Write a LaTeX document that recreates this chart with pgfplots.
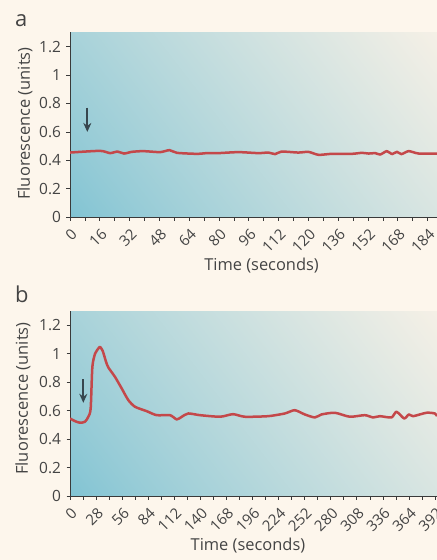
\documentclass[border=0pt]{standalone}
\usepackage{fontspec}
\setmainfont{Open Sans}
\usepackage{pgfplots}
\pgfplotsset{compat=1.18}
\usetikzlibrary{arrows.meta}

\definecolor{pagebg}{HTML}{FDF6EC}
\definecolor{axisgray}{HTML}{3A3A3A}
\definecolor{textgray}{HTML}{444444}
\definecolor{linered}{HTML}{C4484A}
\definecolor{arrowcol}{HTML}{37464E}

% diagonal blue-to-cream background, fitted to the axis box (25..75bp)
\pgfdeclarefunctionalshading{diagbg}{\pgfpointorigin}{\pgfpoint{100bp}{100bp}}{}{
  25 sub 50 div 0.28 mul exch 25 sub 50 div 0.72 mul add
  dup 0 lt {pop 0} if dup 1 gt {pop 1} if
  0.85 exp
  dup dup
  117 mul 128 add 255 div
  exch 45 mul 195 add 255 div
  3 -1 roll 19 mul 211 add 255 div
}

\tikzset{
  marker/.style={arrowcol, line width=2bp, -{Stealth[length=9bp,width=8bp]}},
}

\pgfplotsset{
  panel/.style={
    scale only axis, width=367bp, height=185bp, anchor=south west,
    ymin=0, ymax=1.3,
    ytick={0,0.2,0.4,0.6,0.8,1,1.2},
    axis x line=bottom, axis y line=left,
    axis line style={draw=axisgray, line width=0.9bp, -},
    tick align=outside, major tick length=3.5bp, minor tick length=3.5bp,
    tick style={draw=axisgray, line width=0.8bp},
    minor x tick num=1,
    /pgf/number format/assume math mode=true,
    every tick label/.append style={font=\fontsize{15.5}{17}\selectfont, text=textgray},
    xticklabel style={font=\fontsize{15}{17}\selectfont, rotate=45, anchor=north east, inner sep=0pt, xshift=-4.5bp, yshift=-5bp},
    yticklabel style={xshift=-2bp},
    label style={font=\fontsize{16.5}{18}\selectfont, text=textgray},
    ylabel={Fluorescence (units)},
    xlabel={Time (seconds)},
    axis background/.style={shading=diagbg},
  },
  redline/.style={linered, line width=2.5bp, smooth, tension=0.4, line join=round},
}

\begin{document}
\begin{tikzpicture}
\fill[pagebg] (0bp,0bp) rectangle (437bp,-560bp);

% panel a
\begin{axis}[panel, at={(70bp,-217.3bp)},
  xmin=0, xmax=197,
  xtick={0,16,...,192},
  xticklabels={0,16,32,48,64,80,96,112,120,136,152,168,184},
  xlabel style={at={(axis description cs:0.522,-0.262)}, anchor=center},
  ylabel style={at={(axis description cs:-0.1226,0.507)}, anchor=center},
]
\addplot[redline] coordinates {
  (0,0.455) (16.1,0.467) (21.5,0.451) (25.5,0.462) (29,0.448) (33.2,0.46)
  (39.4,0.465) (48.4,0.458) (53.4,0.472) (57.4,0.453) (68.1,0.446) (73.5,0.451)
  (79.6,0.451) (90.4,0.458) (101.1,0.451) (106.5,0.455) (110.1,0.444) (113.6,0.462)
  (122.6,0.455) (128,0.46) (133.4,0.439) (140.5,0.446) (151.3,0.446) (156.7,0.453)
  (160.3,0.448) (163.9,0.451) (166.5,0.441) (170.1,0.465) (172.8,0.444) (175.5,0.46)
  (177.9,0.444) (181.8,0.465) (187.2,0.448) (197.4,0.448)
};
\draw[marker] (axis cs:9.3,0.77) -- (axis cs:9.3,0.60);
\end{axis}

% panel b
\begin{axis}[panel, at={(70bp,-496bp)},
  xmin=0, xmax=394,
  xtick={0,28,...,392},
  xlabel style={at={(axis description cs:0.485,-0.27)}, anchor=center},
  ylabel style={at={(axis description cs:-0.128,0.527)}, anchor=center},
]
\addplot[redline] coordinates {
  (0,0.545) (5.4,0.526) (10.7,0.515) (16.1,0.522) (19.7,0.557) (22.2,0.615)
  (24,0.907) (26.9,1.0) (30.4,1.036) (32.2,1.048) (35.1,1.02) (38.7,0.943)
  (41.2,0.903) (48.3,0.837) (55.5,0.756) (62.6,0.674) (69.8,0.627) (82.4,0.596)
  (93.1,0.568) (107.4,0.568) (114.6,0.538) (120,0.557) (127,0.58) (139.6,0.568)
  (161.1,0.557) (175,0.575) (187.6,0.557) (212.7,0.561) (230.6,0.58) (241.3,0.603)
  (252.1,0.573) (262.8,0.552) (270,0.573) (284.3,0.585) (300.4,0.557) (316.5,0.568)
  (325.4,0.552) (332.6,0.561) (345.1,0.552) (350.5,0.592) (358.7,0.545) (363.8,0.573)
  (368.4,0.561) (382.7,0.585) (391.7,0.58) (394,0.561)
};
\draw[marker] (axis cs:14.3,0.82) -- (axis cs:14.3,0.655);
\end{axis}

\node[anchor=base west, font=\fontsize{22}{24}\selectfont, text=textgray, inner sep=0pt] at (15bp,-26.7bp) {a};
\node[anchor=base west, font=\fontsize{22}{24}\selectfont, text=textgray, inner sep=0pt] at (15bp,-302.7bp) {b};

\pgfresetboundingbox
\useasboundingbox (0bp,0bp) rectangle (437bp,-560bp);
\end{tikzpicture}
\end{document}
